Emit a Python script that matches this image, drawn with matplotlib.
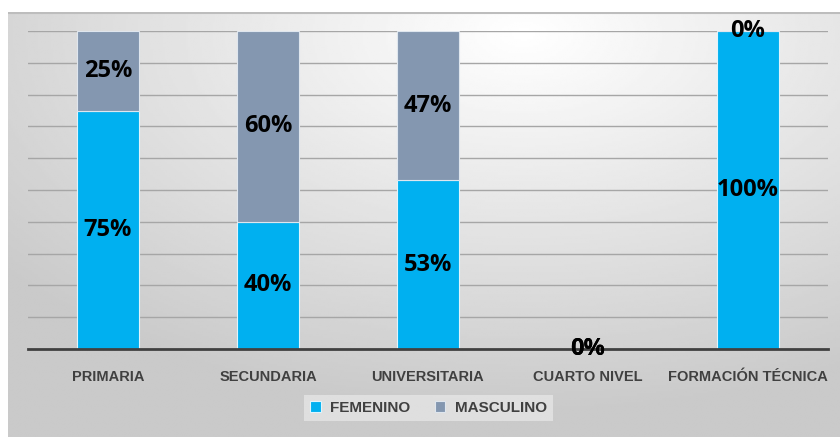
import numpy as np
import matplotlib.pyplot as plt

categorias = ["PRIMARIA", "SECUNDARIA", "UNIVERSITARIA", "CUARTO NIVEL", "FORMACIÓN TÉCNICA"]
femenino = [0.75, 0.40, 0.53, 0.0, 1.00]
masculino = [0.25, 0.60, 0.47, 0.0, 0.0]

fig = plt.figure(figsize=(8.4, 4.37), dpi=100)
fig.patch.set_facecolor("white")

# gradient background of the chart area
bg = fig.add_axes([8 / 840, 0, 1 - 8 / 840, 1 - 12 / 437])
yy, xx = np.mgrid[0:1:200j, 0:1:400j]
d = np.sqrt(((xx - 0.62) * 1.0) ** 2 + ((yy - 0.05) * 0.9) ** 2)
shade = np.clip(1.0 - 0.26 * d, 0.79, 1.0)
bg.imshow(shade, cmap="gray", vmin=0, vmax=1, aspect="auto", extent=[0, 1, 1, 0])
bg.axhline(0.002, color="#bdbdbd", linewidth=1.5)
bg.set_xlim(0, 1)
bg.set_ylim(1, 0)
bg.set_axis_off()

ax = fig.add_axes([28 / 840, 1 - 349 / 437, 800 / 840, 318 / 437])
ax.set_facecolor("none")
x = np.arange(len(categorias))

b1 = ax.bar(x, femenino, 0.39, color="#00B0F0", edgecolor="#dff4fc", linewidth=0.8,
            label="FEMENINO", zorder=3)
b2 = ax.bar(x, masculino, 0.39, bottom=femenino, color="#8497B0", edgecolor="#dfe6ee",
            linewidth=0.8, label="MASCULINO", zorder=3)

for bars, vals in [(b1, femenino), (b2, masculino)]:
    ax.bar_label(bars, labels=[f"{v:.0%}" for v in vals], label_type="center",
                 fontsize=17, fontweight="bold", family="Open Sans", color="black", zorder=5)

ax.set_xlim(-0.5, len(categorias) - 0.5)
ax.set_ylim(0, 1)
ax.set_yticks(np.arange(0.1, 1.01, 0.1))
ax.yaxis.grid(True, color="#a6a6a6", linewidth=1, zorder=0)
ax.set_axisbelow(True)
ax.tick_params(axis="y", left=False, labelleft=False)
ax.tick_params(axis="x", length=0, pad=15)
ax.set_xticks(x)
ax.set_xticklabels(categorias, fontsize=10.5, fontweight="bold", color="#404040",
                   family="Liberation Sans")
for s in ["top", "left", "right"]:
    ax.spines[s].set_visible(False)
ax.spines["bottom"].set_color("#404040")
ax.spines["bottom"].set_linewidth(2)
ax.spines["bottom"].set_zorder(4)

leg = fig.legend(loc="center", bbox_to_anchor=(0.51, 1 - 408 / 437), ncol=2,
                 frameon=True, fancybox=False, handlelength=0.7, handleheight=0.7,
                 columnspacing=1.6, handletextpad=0.6,
                 prop={"size": 11, "weight": "bold", "family": "Liberation Sans"})
leg.get_frame().set_facecolor("white")
leg.get_frame().set_alpha(0.4)
leg.get_frame().set_edgecolor("none")
for t in leg.get_texts():
    t.set_color("#404040")

fig.savefig("out.png", dpi=100)
